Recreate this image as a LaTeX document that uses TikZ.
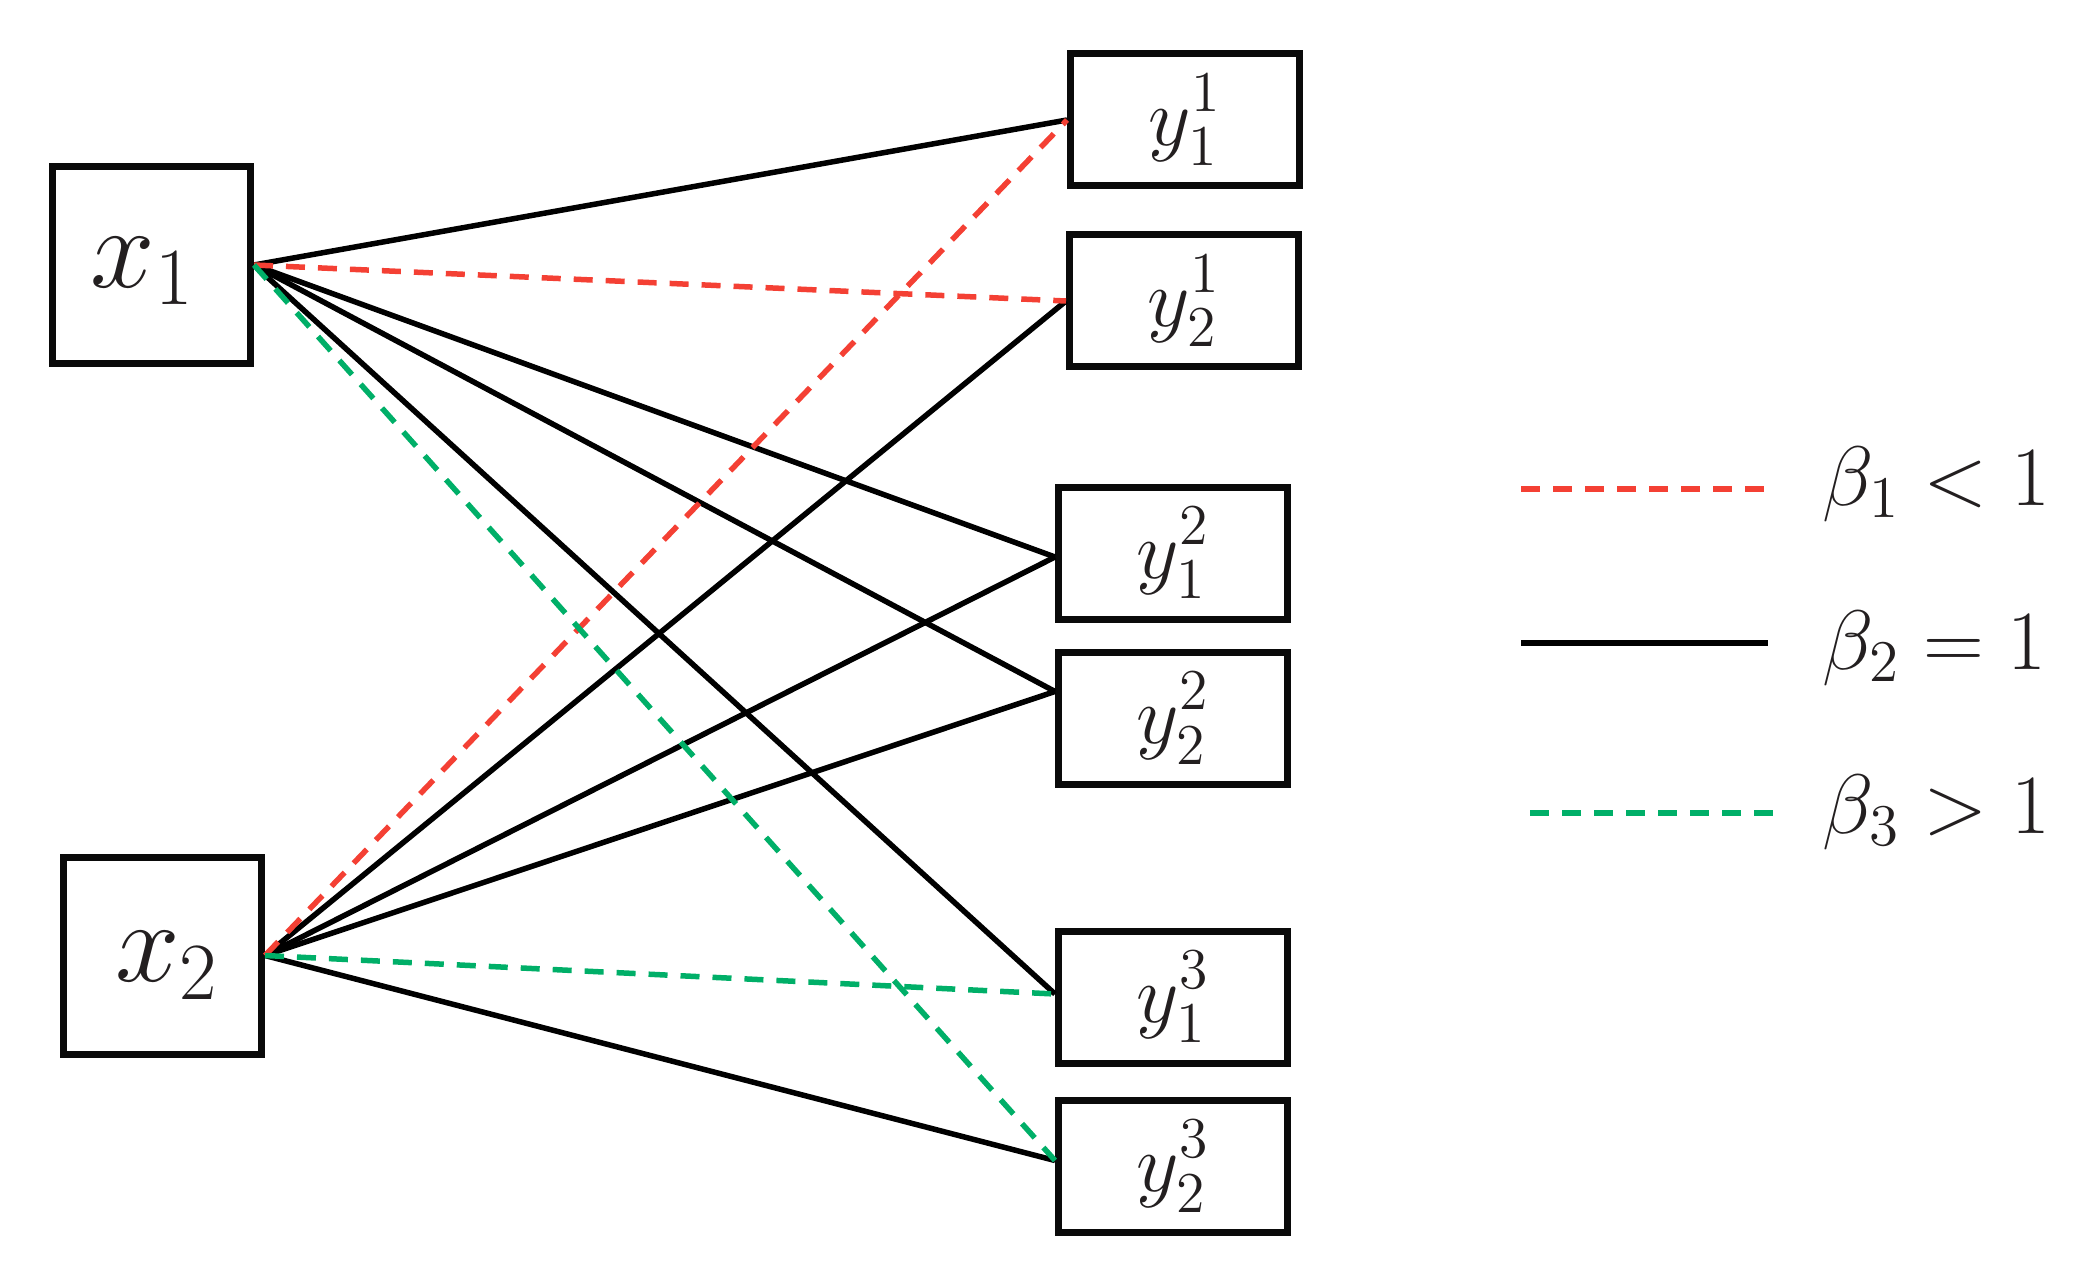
\RequirePackage{fix-cm}
\documentclass[tikz,border=0pt]{standalone}
\usepackage{xcolor}
\definecolor{dred}{RGB}{244,64,52}
\definecolor{dgreen}{RGB}{0,175,104}
\definecolor{txt}{RGB}{35,31,32}
\begin{document}
\begin{tikzpicture}[x=1cm,y=1cm,
  box/.style={draw=black!96, line width=0.07cm, minimum width=2.29cm, minimum height=1.32cm, inner sep=0pt, text=txt, font=\fontsize{23.5}{28}\selectfont},
  xbox/.style={box, minimum width=1.98cm, minimum height=1.97cm},
  xlab/.style={text=txt, font=\fontsize{33}{38}\selectfont},
  conn/.style={line width=0.055cm, line cap=butt},
  blk/.style={conn, draw=black},
  rdash/.style={conn, draw=dred, dash pattern=on 0.19cm off 0.13cm},
  gdash/.style={conn, draw=dgreen, dash pattern=on 0.19cm off 0.13cm},
  legtext/.style={anchor=base west, inner sep=0pt, text=txt, font=\fontsize{24}{29}\selectfont}
]
\useasboundingbox (0,0) rectangle (20.99,12.75);

% input nodes
\node[xbox, label={[xlab, xshift=-0.09cm, yshift=-0.06cm]center:$x_1$}] (x1) at (1.515,10.10) {};
\node[xbox, label={[xlab, xshift=0.045cm, yshift=-0.10cm]center:$x_2$}] (x2) at (1.625,3.195) {};

% output nodes
\node[box] (y11) at (11.85,11.55) {$\displaystyle y_1^1$};
\node[box] (y21) at (11.84,9.74) {$\displaystyle y_2^1$};
\node[box] (y12) at (11.73,7.22) {$\displaystyle y_1^2$};
\node[box] (y22) at (11.73,5.565) {$\displaystyle y_2^2$};
\node[box] (y13) at (11.73,2.78) {$\displaystyle y_1^3$};
\node[box] (y23) at (11.73,1.085) {$\displaystyle y_2^3$};

% connection points
\coordinate (s1) at (x1.east);
\coordinate (s2) at (x2.east);
\coordinate (e11) at (y11.west);
\coordinate (e21) at (y21.west);
\coordinate (e12) at ([yshift=-0.04cm]y12.west);
\coordinate (e22) at ([yshift=0.27cm]y22.west);
\coordinate (e13) at ([yshift=0.03cm]y13.west);
\coordinate (e23) at ([yshift=0.06cm]y23.west);

% connectors from x1
\draw[blk] (s1) -- (e11);
\draw[blk] (s1) -- (e12);
\draw[blk] (s1) -- (e22);
\draw[blk] (s1) -- (e13);
% connectors from x2
\draw[blk] (s2) -- (e21);
\draw[blk] (s2) -- (e12);
\draw[blk] (s2) -- (e22);
\draw[blk] (s2) -- (e23);
% dashed connectors
\draw[rdash] (s1) -- (e21);
\draw[rdash] (s2) -- (e11);
\draw[gdash] (s1) -- (e23);
\draw[gdash] (s2) -- (e13);

% legend
\coordinate (lr1) at (15.21,7.86);
\coordinate (lr2) at (17.64,7.86);
\coordinate (lb1) at (15.21,6.32);
\coordinate (lb2) at (17.68,6.32);
\coordinate (lg1) at (15.30,4.62);
\coordinate (lg2) at (17.75,4.62);
\draw[rdash] (lr1) -- (lr2);
\draw[blk] (lb1) -- (lb2);
\draw[gdash] (lg1) -- (lg2);
\node[legtext] (t1) at (18.22,7.70) {$\beta_1 < 1$};
\node[legtext] (t2) at (18.22,6.06) {$\beta_2 = 1$};
\node[legtext] (t3) at (18.22,4.42) {$\beta_3 > 1$};
\end{tikzpicture}
\end{document}
